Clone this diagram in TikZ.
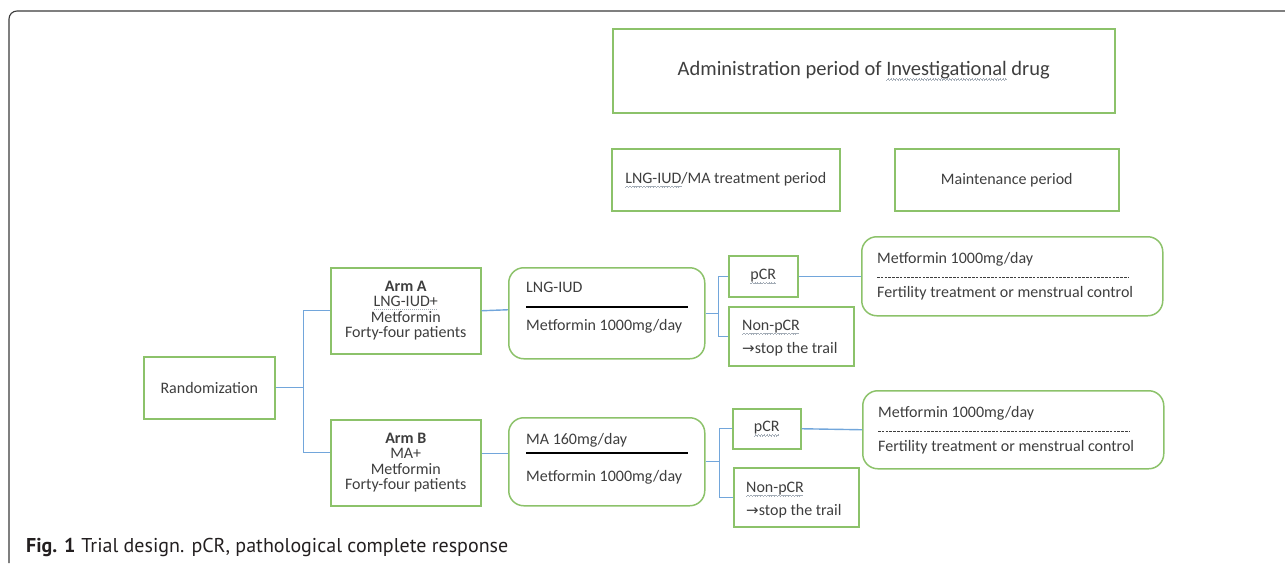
\documentclass[tikz,border=0pt]{standalone}
\usepackage{fontspec}
\setmainfont{Carlito}
\newfontfamily\capfont{PT Sans}
\newfontfamily\arrowfont{DejaVu Sans}
\usetikzlibrary{positioning}
\definecolor{Leaf}{HTML}{8CC26A}
\definecolor{Sky}{HTML}{72A6DB}
\definecolor{Ink}{HTML}{3E3E3E}
\definecolor{Frame}{HTML}{3A3A3A}
\definecolor{Squiggle}{HTML}{A3ACB6}
\definecolor{Capt}{HTML}{231F20}

% spell-check marks as in the source figure
\newsavebox\spellbox
\newcommand\spellwave[1]{\sbox\spellbox{#1}\rlap{\usebox\spellbox}\hbox to\wd\spellbox{\color{Squiggle}\leaders\hbox{\rule[-4.6pt]{0.7pt}{0.6pt}\rule[-4.0pt]{0.7pt}{0.6pt}\rule[-3.4pt]{0.7pt}{0.6pt}\rule[-4.0pt]{0.7pt}{0.6pt}}\hfill}}
\newcommand\dotmark[1]{\sbox\spellbox{#1}\rlap{\usebox\spellbox}\hbox to\wd\spellbox{\color{Squiggle}\leaders\hbox{\kern0.7pt\rule[-2.6pt]{0.8pt}{0.8pt}\kern0.5pt}\hfill}}

\begin{document}
\begin{tikzpicture}[x=1pt,y=-1pt,
    box/.style={draw=Leaf,line width=1.5pt,anchor=north west,inner sep=0pt,text=Ink,align=center,font=\fontsize{16}{15.4}\selectfont},
    roundbox/.style={box,rounded corners=15pt},
    txt/.style={anchor=base west,inner sep=0pt,text=Ink,font=\fontsize{16}{19}\selectfont},
    link/.style={draw=Sky,line width=1.4pt}]
    \useasboundingbox (0,0) rectangle (1285,563);
    \draw[Frame,line width=1.1pt,rounded corners=8pt] (9,563) -- (9,11) -- (1285,11);

    % period headers
    \node[box,minimum width=502pt,minimum height=84pt,font=\fontsize{20.5}{24}\selectfont] (admin) at (612,28) {Administration period of \spellwave{Investigational} drug};
    \node[box,minimum width=228pt,minimum height=62pt] (treat) at (611,148) {\spellwave{LNG-IUD}/MA treatment period};
    \node[box,minimum width=224pt,minimum height=62pt] (maint) at (894,148) {Maintenance period};

    % arms
    \node[box,minimum width=131pt,minimum height=62pt] (rand) at (143,356) {Randomization};
    \node[box,minimum width=150pt,minimum height=86pt] (armA) at (330,267) {\textbf{Arm A}\\\dotmark{LNG-IUD+}\\Metformin\\Forty-four patients};
    \node[box,minimum width=150pt,minimum height=86pt] (armB) at (330,419) {\textbf{Arm B}\\MA+\\Metformin\\Forty-four patients};

    % treatment boxes
    \node[roundbox,minimum width=196pt,minimum height=91pt] (lng) at (508,267) {};
    \node[txt] (lngTop) at (526,292) {LNG-IUD};
    \draw[black,line width=2.2pt] (526,307) -- (688,307);
    \node[txt] (lngBot) at (526,330) {Metformin 1000mg/day};

    \node[roundbox,minimum width=196pt,minimum height=88pt] (ma) at (508,417) {};
    \node[txt] (maTop) at (526,444) {MA 160mg/day};
    \draw[black,line width=2.2pt] (526,453) -- (688,453);
    \node[txt] (maBot) at (526,481) {Metformin 1000mg/day};

    % response
    \node[box,minimum width=69pt,minimum height=41pt] (pcrA) at (728,255) {\spellwave{pCR}};
    \node[box,minimum width=125pt,minimum height=59pt] (nonA) at (728,306) {};
    \node[txt] (nonAtop) at (742,330) {\spellwave{Non-pCR}};
    \node[txt] (nonAbot) at (742,353) {{\arrowfont\fontsize{15}{16}\selectfont →}stop the trail};

    \node[box,minimum width=68pt,minimum height=40pt] (pcrB) at (732,408) {\spellwave{pCR}};
    \node[box,minimum width=125pt,minimum height=59pt] (nonB) at (733,467) {};
    \node[txt] (nonBtop) at (746,492) {\spellwave{Non-pCR}};
    \node[txt] (nonBbot) at (746,515) {{\arrowfont\fontsize{15}{16}\selectfont →}stop the trail};

    % maintenance
    \node[roundbox,minimum width=301pt,minimum height=79pt] (mntA) at (861,236) {};
    \node[txt] (mntAtop) at (877,263) {Metformin 1000mg/day};
    \draw[Ink,line width=0.6pt,dash pattern=on 2.6pt off 1.2pt] (877,277) -- (1128,277);
    \node[txt] (mntAbot) at (877,297) {Fertility treatment or menstrual control};

    \node[roundbox,minimum width=301pt,minimum height=78pt] (mntB) at (862,390) {};
    \node[txt] (mntBtop) at (878,417) {Metformin 1000mg/day};
    \draw[Ink,line width=0.6pt,dash pattern=on 2.6pt off 1.2pt] (878,431) -- (1129,431);
    \node[txt] (mntBbot) at (878,451) {Fertility treatment or menstrual control};

    % connectors
    \coordinate[right=28pt of rand.east] (forkR);
    \draw[link] (rand.east) -- (forkR) |- (armA.west);
    \draw[link] (forkR) |- ([yshift=10pt]armB.west);
    \draw[link] (armA.east) -- ([yshift=3.5pt]lng.west);
    \draw[link] ([yshift=9pt]armB.east) -- ([yshift=8pt]ma.west);

    \coordinate[right=13pt of lng.east] (forkA);
    \draw[link] (lng.east) -- (forkA) |- (pcrA.west);
    \draw[link] (forkA) |- (nonA.west);
    \coordinate[right=14pt of ma.east] (forkB);
    \draw[link] (ma.east) -- (forkB) |- (pcrB.west);
    \draw[link] (forkB) |- (nonB.west);

    \draw[link] (pcrA.east) -- (mntA.west);
    \draw[link] (pcrB.east) -- (mntB.west);

    \node[anchor=base west,inner sep=0pt,text=Capt,font=\capfont\fontsize{20}{22}\selectfont] (caption) at (26,552) {\textbf{Fig. 1}\hspace{6pt}Trial design. pCR, pathological complete response};
\end{tikzpicture}
\end{document}
